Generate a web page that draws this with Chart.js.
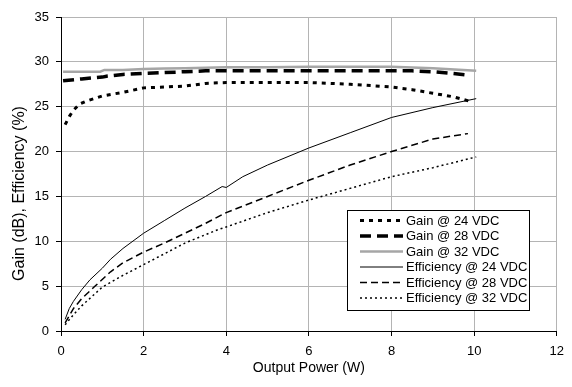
<!DOCTYPE html>
<html>
<head>
<meta charset="utf-8">
<script src="https://cdn.jsdelivr.net/npm/chart.js@4/dist/chart.umd.min.js"></script>
<style>
html,body{margin:0;padding:0;background:#fff;}
#wrap{width:572px;height:387px;}
</style>
</head>
<body>
<div id="wrap"><canvas id="c" width="572" height="387"></canvas></div>
<script>
const seriesNames = ["Gain @ 24 VDC","Gain @ 28 VDC","Gain @ 32 VDC","Efficiency @ 24 VDC","Efficiency @ 28 VDC","Efficiency @ 32 VDC"];

const gain24X = [0.1,0.2,0.3,0.45,0.6,0.8,1.0,1.5,2.0,2.5,3.0,3.5,4.0,5.0,6.0,7.0,8.0,8.5,9.0,9.5,9.9];
const gain24Y = [23.0,23.9,24.6,25.3,25.6,25.9,26.2,26.6,27.1,27.2,27.3,27.6,27.7,27.7,27.7,27.5,27.2,26.9,26.5,26.1,25.6];

const gain28X = [0.05,0.5,1.0,1.1,1.5,2.0,2.5,3.0,3.5,4.0,5,6,7,8,8.5,9,9.5,9.9];
const gain28Y = [27.9,28.1,28.3,28.4,28.6,28.7,28.8,28.9,29.0,29.0,29.0,29.0,29.0,29.0,29.0,28.9,28.7,28.5];

const gain32X = [0.05,0.5,0.95,1.05,1.5,2.0,2.5,3.0,3.5,4.0,5,6,7,8,9,10.05];
const gain32Y = [28.9,28.9,28.9,29.1,29.1,29.2,29.25,29.3,29.35,29.4,29.4,29.45,29.45,29.45,29.3,29.0];

const eff24X = [0.1,0.2,0.3,0.5,0.7,1.0,1.2,1.5,2.0,2.5,3.0,3.5,3.9,4.0,4.4,5.0,6.0,7.0,8.0,9.0,10.05];
const eff24Y = [1.3,2.5,3.3,4.6,5.7,7.0,8.0,9.2,10.9,12.3,13.7,15.0,16.1,16.0,17.2,18.5,20.4,22.1,23.8,24.9,25.9];

const eff28X = [0.1,0.3,0.5,0.8,1.2,1.5,2.0,2.5,3.0,3.5,4.0,5.0,6.0,7.0,8.0,9.0,9.85];
const eff28Y = [0.9,2.5,3.6,4.9,6.6,7.6,8.8,9.8,10.9,12.0,13.2,15.0,16.8,18.5,20.0,21.4,22.0];

const eff32X = [0.1,0.3,0.5,1.0,1.5,2.0,2.5,3.0,3.8,4.0,5.0,6.0,7.0,8.0,9.0,10.05];
const eff32Y = [0.7,1.8,2.8,4.9,6.2,7.4,8.6,9.8,11.3,11.6,13.2,14.6,15.9,17.2,18.2,19.4];

const xTicks = [0,2,4,6,8,10,12];
const yTicks = [0,5,10,15,20,25,30,35];
const xTitle = 'Output Power (W)';
const yTitle = 'Gain (dB), Efficiency (%)';

function pts(xs, ys){ return xs.map((x,i)=>({x:x, y:ys[i]})); }

const styles = [
  {color:'#000', width:3, dash:[4,5]},
  {color:'#000', width:3.5, dash:[11,6]},
  {color:'#a6a6a6', width:2.5, dash:[]},
  {color:'#000', width:1, dash:[]},
  {color:'#000', width:1.5, dash:[7,4]},
  {color:'#000', width:1.5, dash:[2,3]}
];
const dataSets = [pts(gain24X,gain24Y), pts(gain28X,gain28Y), pts(gain32X,gain32Y), pts(eff24X,eff24Y), pts(eff28X,eff28Y), pts(eff32X,eff32Y)];

const datasets = dataSets.map((d,i)=>({
  label: seriesNames[i],
  data: d,
  borderColor: styles[i].color,
  borderWidth: styles[i].width,
  borderDash: styles[i].dash,
  borderCapStyle: 'butt',
  pointRadius: 0,
  tension: 0,
  fill: false
}));
const order = [2,0,1,3,4,5];
order.forEach((idx,k)=>{ datasets[idx].order = 6-k; });

const FONT = 'Liberation Sans, Arial, sans-serif';

const legendPlugin = {
  id: 'boxLegend',
  afterDraw(chart){
    const ctx = chart.ctx;
    const x0 = 347.5, y0 = 210.5, w = 182, h = 100;
    ctx.save();
    ctx.fillStyle = '#fff';
    ctx.fillRect(x0, y0, w, h);
    ctx.strokeStyle = '#000';
    ctx.lineWidth = 1;
    ctx.setLineDash([]);
    ctx.strokeRect(x0, y0, w, h);
    ctx.font = '13px ' + FONT;
    ctx.textBaseline = 'middle';
    for (let i = 0; i < 6; i++) {
      const yy = 220.5 + i * 15.5;
      const s = styles[i];
      ctx.beginPath();
      ctx.strokeStyle = s.color;
      ctx.lineWidth = s.width;
      ctx.lineCap = 'butt';
      ctx.setLineDash(s.dash);
      ctx.moveTo(360, yy);
      ctx.lineTo(403, yy);
      ctx.stroke();
      ctx.setLineDash([]);
      ctx.fillStyle = '#000';
      ctx.fillText(seriesNames[i], 406, yy + 0.5);
    }
    // y-axis title, centred on the whole chart height
    ctx.save();
    ctx.translate(20, 193.5);
    ctx.rotate(-Math.PI/2);
    ctx.font = '16px ' + FONT;
    ctx.textAlign = 'center';
    ctx.textBaseline = 'middle';
    ctx.fillStyle = '#000';
    ctx.fillText(yTitle, 0, 0);
    ctx.restore();
    ctx.restore();
  }
};

new Chart(document.getElementById('c'), {
  type: 'line',
  data: { datasets: datasets },
  options: {
    responsive: false,
    animation: false,
    layout: { padding: { top: 17, right: 11, left: 0, bottom: 0 } },
    plugins: { legend: { display: false }, tooltip: { enabled: false } },
    scales: {
      x: {
        type: 'linear',
        min: 0, max: 12,
        afterBuildTicks(scale){ scale.ticks = xTicks.map(v=>({value:v})); },
        afterFit(scale){ scale.height = 56; },
        ticks: { color:'#000', font:{family:FONT, size:13}, padding: 8, maxRotation:0 },
        grid: { color:'#b4b4b4', lineWidth:1, tickColor:'#000', tickLength:5, drawTicks:true },
        border: { color:'#000', width:1 },
        title: { display:true, text:xTitle, color:'#000', font:{family:FONT, size:14}, padding:{top:0,bottom:10} }
      },
      y: {
        min: 0, max: 35,
        afterBuildTicks(scale){ scale.ticks = yTicks.map(v=>({value:v})); },
        afterFit(scale){ scale.width = 61; },
        ticks: { color:'#000', font:{family:FONT, size:13}, padding: 7 },
        grid: { color:'#b4b4b4', lineWidth:1, tickColor:'#000', tickLength:5, drawTicks:true },
        border: { color:'#000', width:1 },
        title: { display:false }
      }
    }
  },
  plugins: [legendPlugin]
});
</script>
</body>
</html>
